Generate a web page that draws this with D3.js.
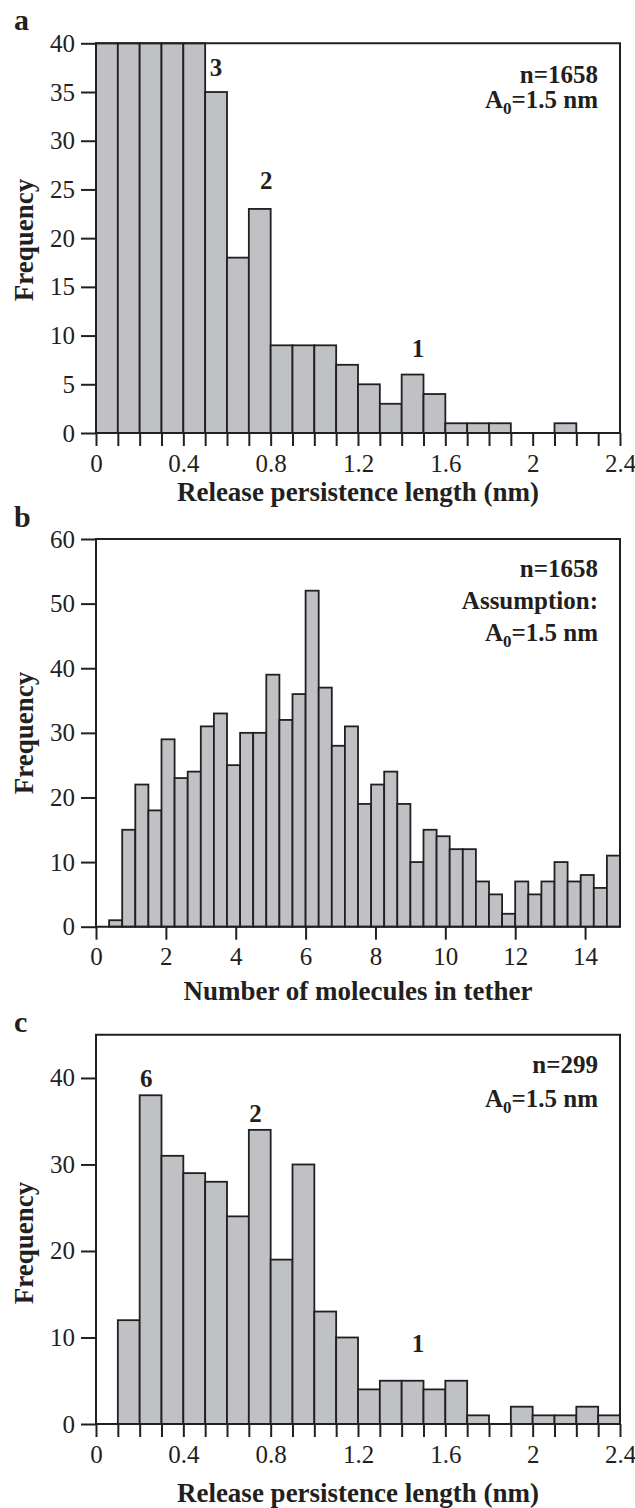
<!DOCTYPE html>
<html>
<head>
<meta charset="utf-8">
<script src="https://cdn.jsdelivr.net/npm/d3@7"></script>
<style>
  html, body { margin: 0; padding: 0; background: #fff; }
  svg { display: block; }
  .tick text { font-family: "Liberation Serif", "Times New Roman", serif; font-size: 25px; fill: #231f20; }
</style>
</head>
<body>
<div id="chart"></div>
<script>
// ── data ───────────────────────────────────────────────────────────
// a: release persistence length, 0.1 nm bins from 0 to 2.4 (first five bars run past 40, clipped)
const countsA = [40, 40, 40, 40, 40, 35, 18, 23, 9, 9, 9, 7, 5, 3, 6, 4, 1, 1, 1, 0, 0, 1, 0, 0]
const binWidthA = 0.1
const xTicksA = [0, 0.4, 0.8, 1.2, 1.6, 2, 2.4]
const yTicksA = [0, 5, 10, 15, 20, 25, 30, 35, 40]
const peaksA = [{ x: 0.55, y: 36.6, t: '3' }, { x: 0.78, y: 25, t: '2' }, { x: 1.475, y: 7.8, t: '1' }]
const notesA = ['n=1658', 'A0=1.5 nm']

// b: number of molecules in tether, 0.375 wide bins from 0 to 15
const countsB = [0, 1, 15, 22, 18, 29, 23, 24, 31, 33, 25, 30, 30, 39, 32, 36, 52, 37, 28, 31,
  19, 22, 24, 19, 10, 15, 14, 12, 12, 7, 5, 2, 7, 5, 7, 10, 7, 8, 6, 11]
const binWidthB = 0.375
const xTicksB = [0, 2, 4, 6, 8, 10, 12, 14]
const yTicksB = [0, 10, 20, 30, 40, 50, 60]
const notesB = ['n=1658', 'Assumption:', 'A0=1.5 nm']

// c: release persistence length, second data set
const countsC = [0, 12, 38, 31, 29, 28, 24, 34, 19, 30, 13, 10, 4, 5, 5, 4, 5, 1, 0, 2, 1, 1, 2, 1]
const binWidthC = 0.1
const xTicksC = [0, 0.4, 0.8, 1.2, 1.6, 2, 2.4]
const yTicksC = [0, 10, 20, 30, 40]
const peaksC = [{ x: 0.23, y: 39, t: '6' }, { x: 0.73, y: 34.9, t: '2' }, { x: 1.475, y: 8.3, t: '1' }]
const notesC = ['n=299', 'A0=1.5 nm']

// ── layout ─────────────────────────────────────────────────────────
const WIDTH = 635, HEIGHT = 1508
const X0 = 96, X1 = 620
const INK = '#231f20', BAR = '#c0c1c4'
const FONT = '"Liberation Serif", "Times New Roman", serif'

const svg = d3.select('#chart').append('svg').attr('width', WIDTH).attr('height', HEIGHT)

function panel(o) {
  const g = svg.append('g')
  const x = d3.scaleLinear().domain(o.xDomain).range([X0, X1])
  const y = d3.scaleLinear().domain(o.yDomain).range([o.yBottom, o.yTop])

  // bars
  g.append('g').selectAll('rect')
    .data(o.counts.map((v, i) => ({ v, i })).filter(d => d.v > 0))
    .join('rect')
    .attr('x', d => x(d.i * o.binWidth))
    .attr('width', d => x((d.i + 1) * o.binWidth) - x(d.i * o.binWidth))
    .attr('y', d => y(Math.min(d.v, o.yDomain[1])))
    .attr('height', d => y(0) - y(Math.min(d.v, o.yDomain[1])))
    .attr('fill', BAR).attr('stroke', INK).attr('stroke-width', 1.8)

  // y axis
  const gy = g.append('g').attr('transform', `translate(${X0},0)`)
    .call(d3.axisLeft(y).tickValues(o.yTicks).tickSize(15).tickPadding(6))
  gy.select('.domain').remove()
  gy.selectAll('.tick line').attr('stroke', INK).attr('stroke-width', 2)

  // x axis: minor ticks at bin edges (a, c) or only labelled ticks (b)
  const gx = g.append('g').attr('transform', `translate(0,${y(0)})`)
    .call(d3.axisBottom(x).tickValues(o.xTickMarks).tickSize(13).tickPadding(8)
      .tickFormat(v => o.xTicks.some(t => Math.abs(t - v) < 1e-6) ? String(+v.toFixed(1)) : ''))
  gx.select('.domain').remove()
  gx.selectAll('.tick line').attr('stroke', INK).attr('stroke-width', 2)

  // frame
  g.append('path')
    .attr('d', `M${X0},${y(0)}V${o.yTop}H${X1}V${y(0)}H${X0}`)
    .attr('fill', 'none').attr('stroke', INK).attr('stroke-width', 2)

  // titles
  g.append('text').attr('x', (X0 + X1) / 2).attr('y', o.titleY)
    .attr('text-anchor', 'middle').attr('font-family', FONT).attr('font-weight', 'bold')
    .attr('font-size', 27).attr('fill', INK).text(o.title)
  g.append('text').attr('transform', `translate(33,${o.freqY}) rotate(-90)`)
    .attr('text-anchor', 'middle').attr('font-family', FONT).attr('font-weight', 'bold')
    .attr('font-size', 27).attr('fill', INK).text('Frequency')
  g.append('text').attr('x', 14).attr('y', o.letterY)
    .attr('font-family', FONT).attr('font-weight', 'bold')
    .attr('font-size', 30).attr('fill', INK).text(o.letter)

  // peak annotations
  g.append('g').selectAll('text').data(o.peaks || []).join('text')
    .attr('x', d => x(d.x)).attr('y', d => y(d.y))
    .attr('text-anchor', 'middle').attr('font-family', FONT).attr('font-weight', 'bold')
    .attr('font-size', 25).attr('fill', INK).text(d => d.t)

  // n / A0 notes, right aligned
  o.notes.forEach((s, i) => {
    const t = g.append('text').attr('x', 598).attr('y', o.notesY + i * o.notesGap)
      .attr('text-anchor', 'end').attr('font-family', FONT).attr('font-weight', 'bold')
      .attr('font-size', 25).attr('fill', INK)
    if (s.startsWith('A0')) {
      t.append('tspan').text('A')
      t.append('tspan').attr('font-size', 17).attr('dy', 6).text('0')
      t.append('tspan').attr('dy', -6).text(s.slice(2))
    } else {
      t.text(s)
    }
  })
}

const edgesAC = d3.range(25).map(i => i / 10)

panel({
  letter: 'a', letterY: 30,
  counts: countsA, binWidth: binWidthA,
  xDomain: [0, 2.4], yDomain: [0, 40], yTop: 43.3, yBottom: 433,
  xTicks: xTicksA, xTickMarks: edgesAC, yTicks: yTicksA,
  title: 'Release persistence length (nm)', titleY: 501, freqY: 240,
  peaks: peaksA, notes: notesA, notesY: 83, notesGap: 25
})

panel({
  letter: 'b', letterY: 527,
  counts: countsB, binWidth: binWidthB,
  xDomain: [0, 15], yDomain: [0, 60], yTop: 539, yBottom: 926.7,
  xTicks: xTicksB, xTickMarks: xTicksB, yTicks: yTicksB,
  title: 'Number of molecules in tether', titleY: 1000, freqY: 733,
  peaks: [], notes: notesB, notesY: 577, notesGap: 32
})

panel({
  letter: 'c', letterY: 1032,
  counts: countsC, binWidth: binWidthC,
  xDomain: [0, 2.4], yDomain: [0, 45], yTop: 1034.7, yBottom: 1424,
  xTicks: xTicksC, xTickMarks: edgesAC, yTicks: yTicksC,
  title: 'Release persistence length (nm)', titleY: 1502, freqY: 1243,
  peaks: peaksC, notes: notesC, notesY: 1073, notesGap: 34
})
</script>
</body>
</html>
